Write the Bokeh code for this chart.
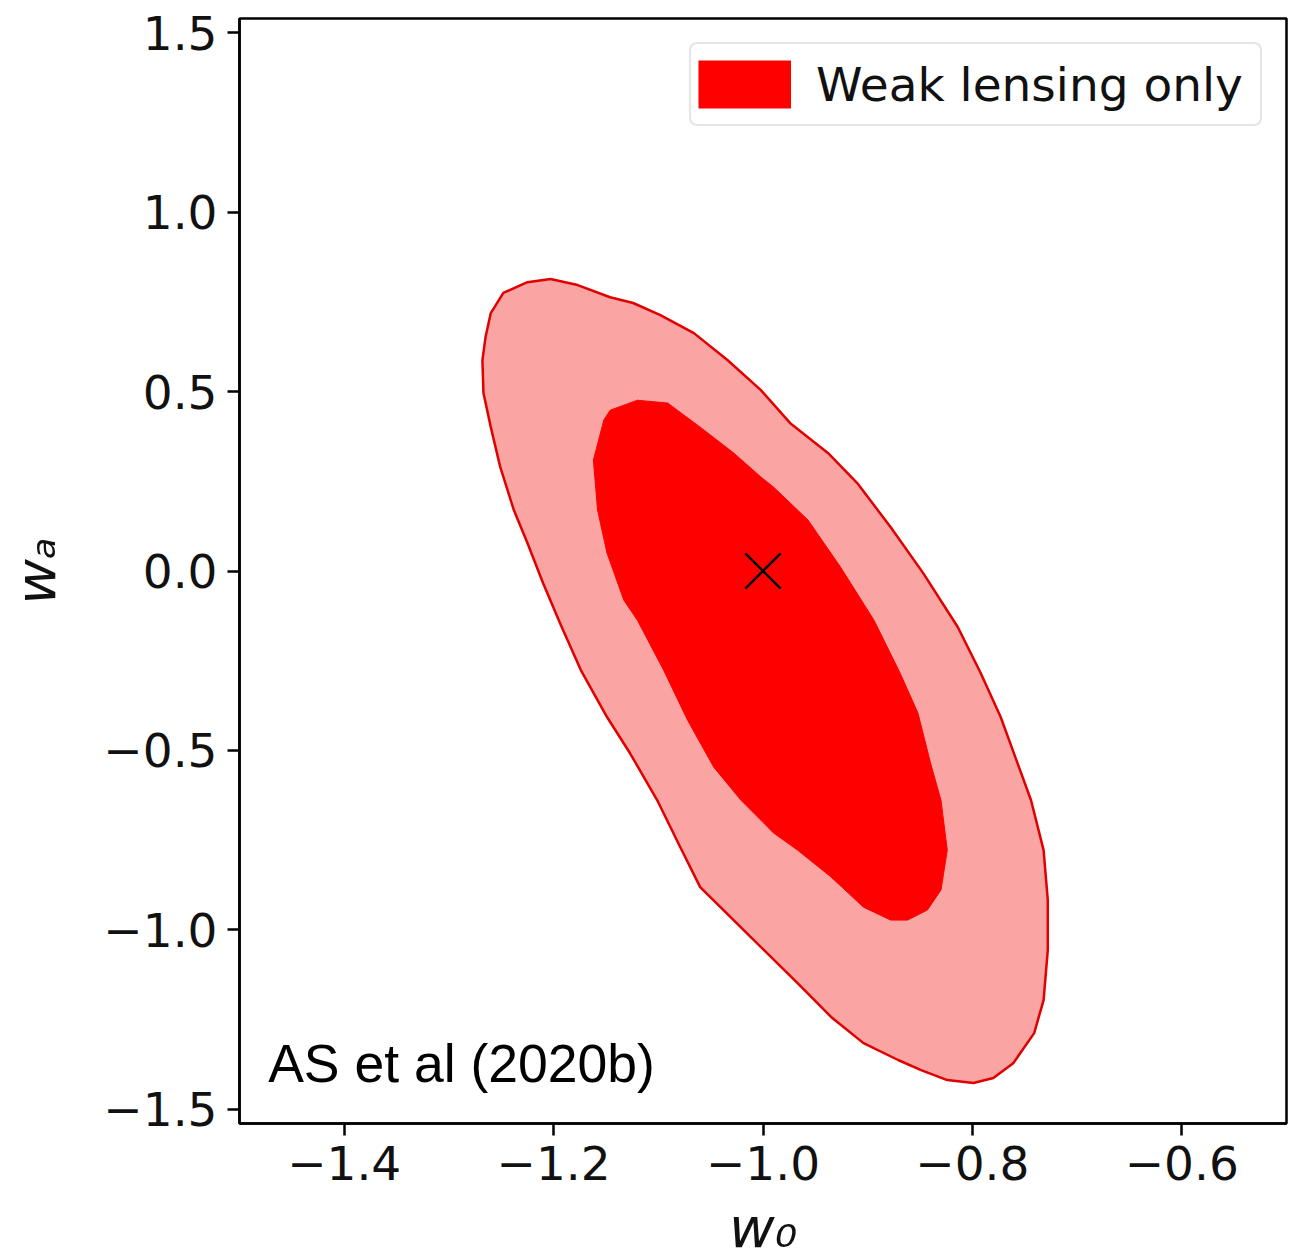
from bokeh.plotting import figure
from bokeh.models import Range1d, FixedTicker, Legend, LegendItem, Label
from bokeh.embed import file_html
from bokeh.resources import INLINE

# Outer (2-sigma) contour in the (w0, wa) plane
outer_w0 = [-1.203, -1.177, -1.146, -1.124, -1.098, -1.066, -1.034, -1.002, -0.974,
            -0.938, -0.910, -0.878, -0.847, -0.814, -0.792, -0.773, -0.757, -0.744,
            -0.732, -0.728, -0.728, -0.732, -0.741, -0.761, -0.780, -0.799, -0.824,
            -0.849, -0.871, -0.904, -0.935, -0.967, -0.999, -1.031, -1.060, -1.079,
            -1.101, -1.127, -1.149, -1.174, -1.193, -1.210, -1.225, -1.238, -1.251,
            -1.260, -1.267, -1.268, -1.265, -1.260, -1.248, -1.225]
outer_wa = [0.814, 0.797, 0.763, 0.747, 0.713, 0.663, 0.588, 0.504, 0.412,
            0.329, 0.245, 0.122, -0.006, -0.156, -0.285, -0.407, -0.535, -0.639,
            -0.778, -0.917, -1.057, -1.196, -1.288, -1.372, -1.413, -1.427, -1.419,
            -1.391, -1.363, -1.316, -1.243, -1.149, -1.057, -0.965, -0.881, -0.770,
            -0.639, -0.508, -0.407, -0.276, -0.151, -0.034, 0.078, 0.170, 0.290,
            0.401, 0.496, 0.588, 0.652, 0.719, 0.775, 0.805]

# Inner (1-sigma) contour
inner_w0 = [-1.120, -1.091, -1.060, -1.028, -1.002, -0.990, -0.957, -0.926, -0.894,
            -0.869, -0.852, -0.840, -0.830, -0.824, -0.830, -0.843, -0.862, -0.878,
            -0.904, -0.935, -0.967, -0.990, -1.021, -1.047, -1.072, -1.095, -1.120,
            -1.133, -1.149, -1.158, -1.162, -1.152, -1.146]
inner_wa = [0.476, 0.468, 0.401, 0.329, 0.262, 0.234, 0.142, 0.011, -0.137,
            -0.285, -0.396, -0.535, -0.639, -0.778, -0.889, -0.945, -0.973, -0.973,
            -0.937, -0.853, -0.778, -0.730, -0.639, -0.547, -0.416, -0.276, -0.137,
            -0.081, 0.050, 0.170, 0.309, 0.421, 0.448]

# Fiducial cosmology
fiducial_w0 = [-1.0]
fiducial_wa = [0.0]

x_ticks = [-1.4, -1.2, -1.0, -0.8, -0.6]
x_tick_labels = ["\u22121.4", "\u22121.2", "\u22121.0", "\u22120.8", "\u22120.6"]
y_ticks = [-1.5, -1.0, -0.5, 0.0, 0.5, 1.0, 1.5]
y_tick_labels = ["\u22121.5", "\u22121.0", "\u22120.5", "0.0", "0.5", "1.0", "1.5"]

p = figure(
    frame_width=1047, frame_height=1105,
    x_range=Range1d(-1.5, -0.5), y_range=Range1d(-1.54, 1.54),
    output_backend="svg", toolbar_location=None,
    min_border_left=239, min_border_right=10, min_border_top=18, min_border_bottom=134,
    background_fill_color="white", border_fill_color="white",
)
p.grid.visible = False
p.outline_line_color = "black"
p.outline_line_width = 2.5

for ax in p.axis:
    ax.axis_line_width = 2.5
    ax.axis_line_color = "black"
    ax.major_tick_line_width = 2.5
    ax.major_tick_line_color = "black"
    ax.major_tick_out = 12
    ax.major_tick_in = 0
    ax.minor_tick_out = 0
    ax.minor_tick_in = 0
    ax.major_label_text_font = "DejaVu Sans"
    ax.major_label_text_font_size = "47px"
    ax.major_label_text_color = "#111111"
    ax.major_label_standoff = 10
    ax.axis_label_text_font = "DejaVu Sans"
    ax.axis_label_text_font_style = "italic"
    ax.axis_label_text_font_size = "56px"
    ax.axis_label_text_color = "#111111"

p.xaxis.ticker = FixedTicker(ticks=x_ticks)
p.xaxis.major_label_overrides = dict(zip(x_ticks, x_tick_labels))
p.yaxis.ticker = FixedTicker(ticks=y_ticks)
p.yaxis.major_label_overrides = dict(zip(y_ticks, y_tick_labels))
p.xaxis.axis_label = "w\u2080"
p.yaxis.axis_label = "w\u2090"
p.xaxis.axis_label_standoff = 12
p.yaxis.axis_label_standoff = 32

outer_r = p.patch(outer_w0, outer_wa, fill_color="#faa4a4", line_color="#e00000",
                  line_width=2.5)
inner_r = p.patch(inner_w0, inner_wa, fill_color="#ff0000", line_color="#ff0000",
                  line_width=1)

# Legend swatch: a single-point thick butt-capped stroke (nothing drawn in the
# frame) gives a solid red block in the legend
swatch = p.line(fiducial_w0, fiducial_wa, line_color="#ff0000", line_width=48,
                line_cap="butt")

p.scatter(fiducial_w0, fiducial_wa, marker="x", size=50, line_color="black",
          line_width=2.5)

legend = Legend(
    items=[LegendItem(label="Weak lensing only", renderers=[swatch])],
    location="top_right", margin=24, padding=7, spacing=0,
    glyph_width=93, glyph_height=66, label_standoff=25, label_width=437,
    label_text_font="DejaVu Sans", label_text_font_size="47px",
    label_text_color="#111111",
    border_line_color="#cccccc", border_line_width=2, border_radius=8,
    background_fill_color="white", background_fill_alpha=1.0,
)
p.add_layout(legend)

p.add_layout(Label(x=-1.4726, y=-1.374, text="AS et al (2020b)",
                   text_font="Liberation Sans", text_font_size="53.5px",
                   text_baseline="alphabetic", text_color="black"))

open("out.html", "w").write(file_html(p, INLINE))
